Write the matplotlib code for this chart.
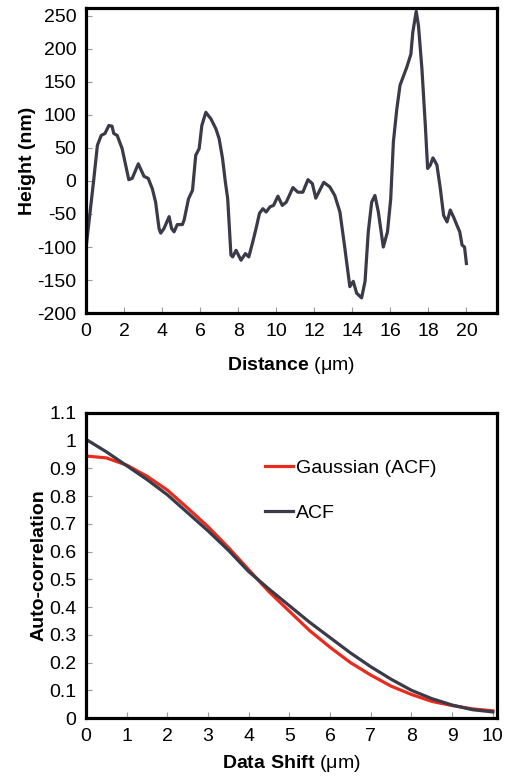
import numpy as np
import matplotlib.pyplot as plt

plt.rcParams['font.family'] = ['Liberation Sans', 'DejaVu Sans']
plt.rcParams['mathtext.fontset'] = 'custom'
plt.rcParams['mathtext.rm'] = 'Liberation Sans'
plt.rcParams['mathtext.bf'] = 'Liberation Sans:bold'
plt.rcParams['axes.unicode_minus'] = False

# surface profile
distance = [0.0, 0.4, 0.6, 0.8, 1.0, 1.2, 1.37, 1.46, 1.64, 1.9, 2.25, 2.43, 2.75,
            3.05, 3.27, 3.49, 3.66, 3.84, 3.93, 4.1, 4.37, 4.5, 4.63, 4.8, 5.07,
            5.16, 5.39, 5.6, 5.77, 5.95, 6.09, 6.3, 6.57, 6.83, 7.0, 7.18, 7.32,
            7.45, 7.62, 7.71, 7.89, 8.15, 8.38, 8.56, 8.77, 8.94, 9.12, 9.3, 9.47,
            9.68, 9.86, 10.09, 10.32, 10.53, 10.88, 11.14, 11.4, 11.67, 11.9, 12.08,
            12.29, 12.5, 12.82, 13.08, 13.35, 13.61, 13.87, 14.05, 14.23, 14.49,
            14.67, 14.84, 15.02, 15.19, 15.37, 15.63, 15.85, 16.02, 16.16, 16.34,
            16.51, 16.86, 17.08, 17.18, 17.36, 17.48, 17.66, 17.84, 17.96, 18.1,
            18.24, 18.36, 18.45, 18.63, 18.8, 18.98, 19.15, 19.33, 19.5, 19.65,
            19.77, 19.9, 20.0]
height = [-102, 0, 54, 69, 72, 84, 83, 72, 69, 49, 2, 4, 26,
          7, 4, -12, -32, -72, -79, -72, -54, -72, -77, -66, -66,
          -59, -27, -14, 39, 49, 84, 104, 94, 79, 64, 34, 0,
          -27, -112, -115, -105, -120, -110, -115, -92, -72, -49, -42, -47,
          -39, -37, -23, -37, -32, -10, -17, -17, 2, -4, -26,
          -14, -2, -9, -22, -47, -102, -160, -152, -170, -177,
          -152, -77, -32, -22, -47, -100, -77, -27, 59, 109,
          145, 172, 192, 225, 257, 235, 170, 84, 19, 24,
          35, 29, 24, -12, -52, -62, -44, -55, -67, -77,
          -97, -100, -125]

# auto-correlation vs data shift
shift = [0, 0.5, 1, 1.5, 2, 2.5, 3, 3.5, 4, 4.5, 5, 5.5, 6, 6.5, 7, 7.5,
         8, 8.5, 9, 9.5, 10]
acf = [1.005, 0.96, 0.91, 0.86, 0.805, 0.74, 0.675, 0.605, 0.528, 0.465,
       0.405, 0.345, 0.29, 0.235, 0.185, 0.14, 0.10, 0.07, 0.047, 0.03, 0.022]
gauss = [0.945, 0.938, 0.912, 0.872, 0.822, 0.757, 0.69, 0.615, 0.535, 0.455,
         0.385, 0.315, 0.255, 0.2, 0.155, 0.115, 0.085, 0.06, 0.045, 0.033, 0.026]

dark = '#3a3a48'
red = '#ea2a1c'

fig = plt.figure(figsize=(5.07, 7.76), dpi=100)
ax1 = fig.add_axes([0.1696, 0.5966, 0.8104, 0.3931])
ax2 = fig.add_axes([0.1696, 0.0747, 0.8104, 0.3931])

ax1.plot(distance, height, color=dark, lw=2.3)
ax1.set_xlim(0, 21.6)
ax1.set_ylim(-200, 262)
ax1.set_xticks(np.arange(0, 21, 2))
ax1.set_yticks(np.arange(-200, 251, 50))
ax1.set_xlabel(r'$\mathbf{Distance}$ (μm)', fontsize=14, labelpad=11)
ax1.set_ylabel('Height (nm)', fontsize=14, fontweight='bold', labelpad=1)

ax2.plot(shift, gauss, color=red, lw=2.3, label='Gaussian (ACF)')
ax2.plot(shift, acf, color=dark, lw=2.3, label='ACF')
ax2.set_xlim(0, 10.1)
ax2.set_ylim(0, 1.1)
ax2.set_xticks(range(0, 11))
ax2.set_yticks(np.arange(0, 1.11, 0.1))
ax2.set_yticklabels(['0', '0.1', '0.2', '0.3', '0.4', '0.5', '0.6', '0.7',
                     '0.8', '0.9', '1', '1.1'])
ax2.set_xlabel(r'$\mathbf{Data\ Shift}$ (μm)', fontsize=14, labelpad=6)
ax2.set_ylabel('Auto-correlation', fontsize=14, fontweight='bold', labelpad=1)
ax2.legend(loc='upper left', bbox_to_anchor=(0.435, 0.847), frameon=False,
           fontsize=14, handlelength=1.45, handletextpad=0.15,
           labelspacing=1.4, borderpad=0, borderaxespad=0)

for ax in (ax1, ax2):
    for s in ax.spines.values():
        s.set_linewidth(2.3)
    ax.tick_params(direction='in', length=4, width=0.8, color='#999999',
                   labelsize=14, pad=7)

fig.savefig('out.png', dpi=100)
